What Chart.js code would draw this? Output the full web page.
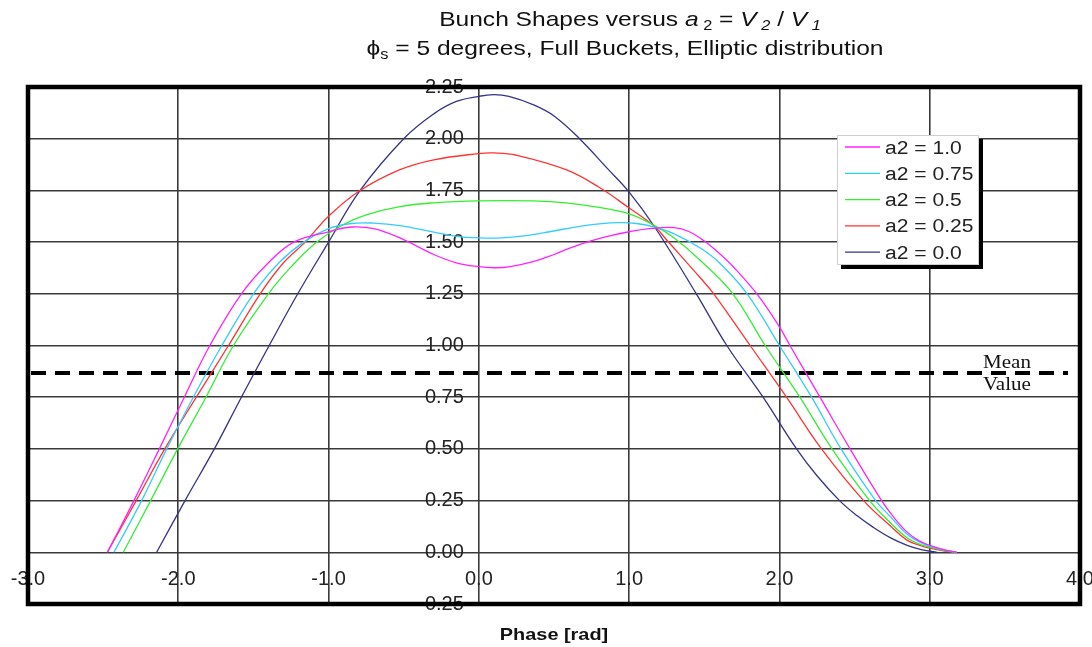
<!DOCTYPE html>
<html>
<head>
<meta charset="utf-8">
<title>Bunch Shapes versus a2</title>
<script src="https://cdn.jsdelivr.net/npm/chart.js@4.4.1/dist/chart.umd.min.js"></script>
<style>
  html, body { margin: 0; padding: 0; background: #fff; }
  #wrap { position: relative; width: 1092px; height: 647px; }
</style>
</head>
<body>
<div id="wrap"><canvas id="bunch-chart"></canvas></div>
<script>
// Bunch shapes for several a2 = V2/V1, phi_s = 5 deg, full buckets, elliptic distribution.
// Points.

/* ---------------- data ---------------- */
const SERIES_LABELS = ['a2 = 1.0', 'a2 = 0.75', 'a2 = 0.5', 'a2 = 0.25', 'a2 = 0.0'];
const SERIES_COLORS = ['#ff22ff', '#33ccff', '#33ee33', '#ff3333', '#333388'];

const PHASE_A10 = [-2.472, -2.295, -2.126, -1.96, -1.79, -1.58, -1.4, -1.232, -1.0, -0.85, -0.7, -0.525, -0.3, -0.15, 0.0, 0.1, 0.2, 0.36, 0.5, 0.6, 0.74, 0.85, 1.0, 1.15, 1.3, 1.4, 1.5, 1.6, 1.7, 1.86, 2.0, 2.07, 2.27, 2.47, 2.68, 2.76, 2.846, 2.93, 3.0, 3.1, 3.18];
const SHAPE_A10 = [0, 0.25, 0.5, 0.75, 1.0, 1.25, 1.4, 1.5, 1.55, 1.573, 1.565, 1.52, 1.44, 1.4, 1.381, 1.376, 1.38, 1.405, 1.44, 1.47, 1.505, 1.527, 1.55, 1.566, 1.57, 1.55, 1.505, 1.445, 1.375, 1.24, 1.09, 1.0, 0.75, 0.5, 0.25, 0.17, 0.1, 0.055, 0.034, 0.012, 0];

const PHASE_A075 = [-2.428, -2.244, -2.077, -1.9, -1.71, -1.5, -1.33, -1.166, -1.0, -0.85, -0.7, -0.525, -0.3, -0.15, 0.0, 0.15, 0.3, 0.47, 0.65, 0.8, 0.93, 1.05, 1.17, 1.3, 1.476, 1.6, 1.785, 2.0, 2.214, 2.41, 2.64, 2.735, 2.846, 2.93, 3.0, 3.1, 3.18];
const SHAPE_A075 = [0, 0.25, 0.5, 0.75, 1.0, 1.25, 1.4, 1.5, 1.565, 1.59, 1.592, 1.58, 1.548, 1.528, 1.52, 1.52, 1.53, 1.55, 1.574, 1.588, 1.594, 1.59, 1.573, 1.54, 1.47, 1.4, 1.25, 1.0, 0.75, 0.5, 0.25, 0.175, 0.09, 0.05, 0.03, 0.01, 0];

const PHASE_A05 = [-2.366, -2.184, -2.004, -1.816, -1.633, -1.4, -1.25, -1.078, -0.9, -0.75, -0.525, -0.3, 0.0, 0.36, 0.58, 0.8, 1.0, 1.17, 1.3, 1.476, 1.69, 1.905, 2.136, 2.35, 2.6, 2.735, 2.846, 2.93, 3.0, 3.1, 3.18];
const SHAPE_A05 = [0, 0.25, 0.5, 0.75, 1.0, 1.25, 1.38, 1.5, 1.585, 1.632, 1.672, 1.69, 1.699, 1.699, 1.69, 1.668, 1.637, 1.58, 1.52, 1.41, 1.25, 1.0, 0.75, 0.5, 0.25, 0.145, 0.072, 0.04, 0.025, 0.008, 0];

const PHASE_A025 = [-2.472, -2.28, -2.09, -1.88, -1.666, -1.455, -1.3, -1.156, -1.0, -0.8, -0.525, -0.3, 0.0, 0.1, 0.25, 0.58, 0.8, 1.0, 1.17, 1.25, 1.476, 1.563, 1.805, 2.047, 2.28, 2.56, 2.735, 2.846, 2.93, 3.0, 3.1, 3.18];
const SHAPE_A025 = [0, 0.25, 0.5, 0.75, 1.0, 1.25, 1.4, 1.5, 1.625, 1.745, 1.85, 1.898, 1.928, 1.931, 1.92, 1.85, 1.765, 1.665, 1.575, 1.51, 1.325, 1.25, 1.0, 0.75, 0.5, 0.25, 0.13, 0.06, 0.035, 0.02, 0.006, 0];

const PHASE_A00 = [-2.144, -1.955, -1.76, -1.58, -1.395, -1.205, -1.0, -0.79, -0.5, -0.3, -0.15, 0.0, 0.1, 0.2, 0.36, 0.5, 0.67, 0.85, 1.0, 1.17, 1.447, 1.65, 1.891, 2.114, 2.25, 2.4, 2.52, 2.62, 2.74, 2.85, 2.95, 3.05];
const SHAPE_A00 = [0, 0.25, 0.5, 0.75, 1.0, 1.25, 1.5, 1.75, 2.0, 2.12, 2.18, 2.205, 2.213, 2.205, 2.165, 2.11, 2.0, 1.86, 1.742, 1.573, 1.25, 1.0, 0.75, 0.5, 0.37, 0.25, 0.175, 0.123, 0.07, 0.034, 0.012, 0];

const SERIES_PHASES = [PHASE_A10, PHASE_A075, PHASE_A05, PHASE_A025, PHASE_A00];
const SERIES_SHAPES = [SHAPE_A10, SHAPE_A075, SHAPE_A05, SHAPE_A025, SHAPE_A00];

const MEAN_VALUE = 0.867;
const MEAN_PHASE = [-2.98, 3.92];

const X_TICKS = [-3, -2, -1, 0, 1, 2, 3, 4];
const Y_TICKS = [-0.25, 0, 0.25, 0.5, 0.75, 1.0, 1.25, 1.5, 1.75, 2.0, 2.25];

/* ---------------- styling ---------------- */
const FONT_SANS = '"Liberation Sans", Arial, sans-serif';
const FONT_SERIF = '"Liberation Serif", "Times New Roman", serif';
const STRETCH = 1.17;      // original picture is drawn a bit wider than tall
const GRID_COLOR = '#3a3a3a';

function stretchedText(ctx, text, x, y, align) {
  const w = ctx.measureText(text).width * STRETCH;
  let x0 = x;
  if (align === 'center') x0 = x - w / 2;
  else if (align === 'right') x0 = x - w;
  ctx.save();
  ctx.translate(x0, y);
  ctx.scale(STRETCH, 1);
  ctx.textAlign = 'left';
  ctx.fillText(text, 0, 0);
  ctx.restore();
  return w;
}

function drawRuns(ctx, runs, cx, baseline) {
  let total = 0;
  runs.forEach(r => { ctx.font = r.font; total += ctx.measureText(r.text).width * STRETCH; });
  let x = cx - total / 2;
  runs.forEach(r => {
    ctx.font = r.font;
    x += stretchedText(ctx, r.text, x, baseline + (r.dy || 0), 'left');
  });
}

/* ---------------- decorations plugin ---------------- */
const decorations = {
  id: 'decorations',
  afterDraw(chart) {
    const ctx = chart.ctx;
    const ca = chart.chartArea;
    ctx.save();
    ctx.textBaseline = 'alphabetic';
    ctx.fillStyle = '#111';

    // frame
    ctx.strokeStyle = '#000';
    ctx.lineWidth = 4.5;
    ctx.strokeRect(ca.left, ca.top, ca.right - ca.left, ca.bottom - ca.top);

    // title
    const N = '21px ' + FONT_SANS, I = 'italic 21px ' + FONT_SANS;
    const S = '14px ' + FONT_SANS, SI = 'italic 14px ' + FONT_SANS;
    drawRuns(ctx, [
      { text: 'Bunch Shapes versus ', font: N },
      { text: 'a', font: I },
      { text: ' 2', font: S, dy: 4 },
      { text: ' = ', font: N },
      { text: 'V', font: I },
      { text: ' 2', font: SI, dy: 4 },
      { text: ' / ', font: N },
      { text: 'V', font: I },
      { text: ' 1', font: SI, dy: 4 }
    ], 630, 26);
    drawRuns(ctx, [
      { text: 'ϕ', font: N },
      { text: 's', font: S, dy: 4 },
      { text: ' = 5 degrees, Full Buckets, Elliptic distribution', font: N }
    ], 625, 55);

    // x axis title
    ctx.font = 'bold 17px ' + FONT_SANS;
    stretchedText(ctx, 'Phase [rad]', 554, 640, 'center');

    // mean value note
    const yMean = chart.scales.y.getPixelForValue(MEAN_VALUE);
    ctx.font = '18px ' + FONT_SERIF;
    stretchedText(ctx, 'Mean', ca.right - 97, yMean - 5, 'left');
    stretchedText(ctx, 'Value', ca.right - 97, yMean + 17, 'left');

    // legend
    const bx = ca.right - 243, by = ca.top + 48, bw = 142, bh = 130;
    ctx.fillStyle = '#000';
    ctx.fillRect(bx + 4, by + 4, bw, bh);
    ctx.fillStyle = '#fff';
    ctx.fillRect(bx, by, bw, bh);
    ctx.strokeStyle = '#cfcfcf';
    ctx.lineWidth = 1;
    ctx.strokeRect(bx + 0.5, by + 0.5, bw - 1, bh - 1);
    ctx.font = '18px ' + FONT_SANS;
    let row = 0;
    chart.data.datasets.forEach(ds => {
      if (!ds.inLegend) return;
      const y = by + 12 + row * 26.3;
      ctx.strokeStyle = ds.borderColor;
      ctx.lineWidth = 1.3;
      ctx.beginPath();
      ctx.moveTo(bx + 8, y);
      ctx.lineTo(bx + 43, y);
      ctx.stroke();
      ctx.fillStyle = '#222';
      stretchedText(ctx, ds.label, bx + 48, y + 6.5, 'left');
      row++;
    });
    ctx.restore();
  }
};

/* ---------------- chart ---------------- */
function buildDatasets() {
  const sets = SERIES_LABELS.map((label, i) => ({
    label: label,
    data: SERIES_PHASES[i].map((x, j) => ({ x: x, y: SERIES_SHAPES[i][j] })),
    borderColor: SERIES_COLORS[i],
    borderWidth: 1.3,
    pointRadius: 0,
    fill: false,
    tension: 0.4,
    inLegend: true
  }));
  sets.push({
    label: 'Mean Value',
    data: MEAN_PHASE.map(x => ({ x: x, y: MEAN_VALUE })),
    borderColor: '#000',
    borderWidth: 4,
    borderDash: [15, 9],
    borderCapStyle: 'butt',
    pointRadius: 0,
    fill: false,
    inLegend: false
  });
  return sets;
}

const tickFont = { family: FONT_SANS, size: 20 };

new Chart(document.getElementById('bunch-chart'), {
  type: 'line',
  data: { datasets: buildDatasets() },
  plugins: [decorations],
  options: {
    responsive: true,
    maintainAspectRatio: false,
    animation: false,
    layout: { padding: { left: 28, right: 12, top: 87, bottom: 43 } },
    plugins: {
      legend: { display: false },
      title: { display: false },
      tooltip: { enabled: false }
    },
    scales: {
      x: {
        type: 'linear',
        min: -3,
        max: 4,
        position: { y: 0 },
        // axis sits inside the plot, so it takes no room of its own
        afterFit: s => { s.height = 0; s.paddingLeft = 0; s.paddingRight = 0; },
        afterBuildTicks: s => { s.ticks = X_TICKS.map(v => ({ value: v })); },
        border: { display: false },
        grid: { color: GRID_COLOR, lineWidth: 1.6, drawTicks: false },
        ticks: {
          padding: 15, autoSkip: false, maxRotation: 0, color: '#222', font: tickFont,
          callback: v => Number(v).toFixed(1)
        }
      },
      y: {
        type: 'linear',
        min: -0.25,
        max: 2.25,
        position: { x: -0.1 },
        afterFit: s => { s.width = 0; s.paddingTop = 0; s.paddingBottom = 0; },
        afterBuildTicks: s => { s.ticks = Y_TICKS.map(v => ({ value: v })); },
        border: { display: false },
        grid: { color: GRID_COLOR, lineWidth: 1.6, drawTicks: false },
        ticks: {
          autoSkip: false, color: '#222', font: tickFont,
          callback: v => Number(v).toFixed(2)
        }
      }
    }
  }
});
</script>
</body>
</html>
